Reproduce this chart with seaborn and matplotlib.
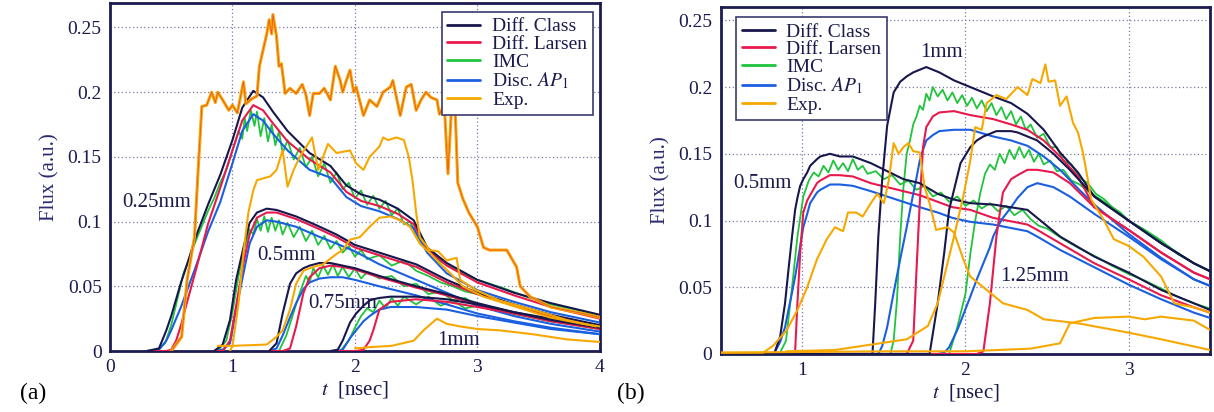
import matplotlib
matplotlib.use("Agg")
import matplotlib.pyplot as plt
from matplotlib.lines import Line2D
import seaborn as sns

sns.set_style("white")
plt.rcParams['font.family'] = ['Liberation Serif', 'DejaVu Serif']
plt.rcParams['mathtext.fontset'] = 'stix'

NAVY = '#17174d'
RED = '#e8194c'
GREEN = '#1fc43c'
BLUE = '#1a5fe0'
ORANGE = '#f7a800'
FRAME = '#1c1c52'

method_names = ['Diff. Class', 'Diff. Larsen', 'IMC', 'Disc. $AP_1$', 'Exp.']

# ---------------- Panel (a) ----------------
a_xticks = [0, 1, 2, 3, 4]
a_yticks = [0, 0.05, 0.1, 0.15, 0.2, 0.25]
a_ytick_labels = ['0', '0.05', '0.1', '0.15', '0.2', '0.25']
a_labels = ['0.25mm', '0.5mm', '0.75mm', '1mm']
a_label_pos = [(0.10, 0.115), (1.20, 0.074), (1.62, 0.037), (2.67, 0.0085)]

# 0.25 mm
a1_t = [0.30, 0.40, 0.46, 0.50, 0.54, 0.58, 0.63, 0.70, 0.80, 0.90,
        1.00, 1.08, 1.17, 1.25, 1.33, 1.45, 1.63, 1.80, 1.93, 2.05,
        2.20, 2.35, 2.48, 2.59, 2.75, 3.00, 3.30, 3.60, 4.00]
a1_class = [0, 0.002, 0.016, 0.027, 0.040, 0.053, 0.067, 0.088, 0.113, 0.136,
            0.163, 0.188, 0.201, 0.196, 0.185, 0.170, 0.153, 0.143, 0.128, 0.121,
            0.117, 0.110, 0.101, 0.080, 0.068, 0.055, 0.045, 0.037, 0.028]
a1_larsen = [0, 0, 0, 0.001, 0.008, 0.020, 0.038, 0.062, 0.098, 0.126,
             0.155, 0.178, 0.190, 0.186, 0.176, 0.162, 0.148, 0.138, 0.123, 0.116,
             0.112, 0.106, 0.098, 0.079, 0.066, 0.053, 0.043, 0.034, 0.025]
a1_ap1 = [0, 0.001, 0.008, 0.016, 0.025, 0.034, 0.047, 0.065, 0.092, 0.115,
          0.145, 0.170, 0.183, 0.178, 0.168, 0.155, 0.140, 0.134, 0.119, 0.112,
          0.108, 0.102, 0.095, 0.076, 0.060, 0.047, 0.038, 0.030, 0.022]
a1_imc_t = [0.38, 0.45, 0.50, 0.55, 0.60, 0.70, 0.80, 0.85, 0.90, 0.95,
            1.00, 1.05, 1.08, 1.10, 1.12, 1.15, 1.18, 1.20, 1.23, 1.26,
            1.29, 1.32, 1.35, 1.38, 1.41, 1.45, 1.50, 1.55, 1.60, 1.65,
            1.70, 1.75, 1.80, 1.85, 1.90, 1.95, 2.00, 2.05, 2.10, 2.15,
            2.20, 2.25, 2.30, 2.35, 2.40, 2.45, 2.50, 2.55, 2.60, 2.70,
            2.80, 2.90, 3.00, 3.20, 3.40, 3.60, 3.80, 4.00]
a1_imc = [0, 0.006, 0.020, 0.040, 0.060, 0.085, 0.108, 0.118, 0.130, 0.140,
          0.155, 0.170, 0.164, 0.180, 0.170, 0.186, 0.174, 0.185, 0.166, 0.180,
          0.162, 0.175, 0.159, 0.170, 0.153, 0.163, 0.148, 0.157, 0.142, 0.150,
          0.135, 0.145, 0.130, 0.138, 0.125, 0.130, 0.118, 0.124, 0.113, 0.120,
          0.110, 0.116, 0.105, 0.110, 0.098, 0.100, 0.090, 0.083, 0.077, 0.069,
          0.064, 0.059, 0.055, 0.049, 0.042, 0.036, 0.032, 0.027]
a1_exp_t = [0.50, 0.585, 0.63, 0.69, 0.72,
            0.75, 0.79, 0.83, 0.86, 0.88,
            0.92, 0.97, 1.00, 1.04, 1.09,
            1.11, 1.16, 1.20, 1.22, 1.28,
            1.30, 1.32, 1.33, 1.36, 1.38,
            1.40, 1.43, 1.47, 1.52, 1.57,
            1.60, 1.63, 1.66, 1.71, 1.75,
            1.80, 1.84, 1.88, 1.90, 1.93,
            1.96, 1.99, 2.01, 2.07, 2.12,
            2.18, 2.23, 2.29, 2.31, 2.37,
            2.42, 2.46, 2.50, 2.54, 2.58,
            2.62, 2.67, 2.69, 2.73, 2.76,
            2.79, 2.82, 2.84, 2.88, 2.93,
            3.00, 3.05, 3.10, 3.24, 3.32,
            3.35, 3.43, 3.60, 3.86, 4.00]
a1_exp = [0, 0.011, 0.055, 0.088, 0.140,
          0.189, 0.190, 0.200, 0.192, 0.200,
          0.194, 0.186, 0.190, 0.184, 0.208,
          0.191, 0.195, 0.197, 0.220, 0.245,
          0.256, 0.245, 0.260, 0.243, 0.220,
          0.222, 0.199, 0.203, 0.199, 0.206,
          0.198, 0.182, 0.199, 0.199, 0.203,
          0.194, 0.220, 0.209, 0.200, 0.209,
          0.217, 0.200, 0.204, 0.182, 0.194,
          0.189, 0.200, 0.204, 0.209, 0.182,
          0.204, 0.206, 0.186, 0.194, 0.200,
          0.196, 0.194, 0.183, 0.190, 0.137,
          0.190, 0.183, 0.130, 0.118, 0.107,
          0.096, 0.080, 0.078, 0.078, 0.065,
          0.050, 0.042, 0.034, 0.029, 0.026]

# 0.5 mm
a2_t = [0.85, 0.92, 0.98, 1.03, 1.09, 1.14, 1.20, 1.28, 1.36, 1.52,
        1.69, 1.85, 2.00, 2.20, 2.50, 2.75, 3.00, 3.30, 3.60, 4.00]
a2_class = [0, 0.005, 0.024, 0.055, 0.080, 0.099, 0.107, 0.110, 0.109, 0.104,
            0.097, 0.090, 0.082, 0.076, 0.067, 0.055, 0.045, 0.036, 0.028, 0.020]
a2_larsen = [0, 0, 0.008, 0.035, 0.068, 0.090, 0.103, 0.107, 0.107, 0.102,
             0.095, 0.088, 0.080, 0.074, 0.065, 0.053, 0.044, 0.035, 0.027, 0.019]
a2_ap1 = [0, 0.001, 0.006, 0.032, 0.060, 0.083, 0.096, 0.101, 0.100, 0.096,
          0.089, 0.083, 0.077, 0.067, 0.055, 0.045, 0.035, 0.027, 0.021, 0.015]
a2_imc_t = [0.88, 0.95, 1.00, 1.05, 1.10, 1.14, 1.17, 1.20, 1.23, 1.26,
            1.29, 1.32, 1.35, 1.38, 1.41, 1.45, 1.50, 1.55, 1.60, 1.65,
            1.70, 1.75, 1.80, 1.85, 1.90, 1.95, 2.00, 2.05, 2.10, 2.20,
            2.30, 2.40, 2.50, 2.60, 2.70, 2.80, 2.90, 3.00, 3.20, 3.40,
            3.60, 3.80, 4.00]
a2_imc = [0, 0.008, 0.030, 0.058, 0.080, 0.094, 0.090, 0.102, 0.093, 0.104,
          0.092, 0.103, 0.093, 0.101, 0.090, 0.099, 0.088, 0.096, 0.085, 0.093,
          0.082, 0.089, 0.079, 0.085, 0.076, 0.081, 0.073, 0.078, 0.071, 0.074,
          0.066, 0.070, 0.062, 0.058, 0.053, 0.050, 0.046, 0.044, 0.039, 0.032,
          0.027, 0.022, 0.018]
a2_exp_t = [0.98, 1.00, 1.05, 1.09, 1.13,
            1.17, 1.20, 1.31, 1.36, 1.41,
            1.45, 1.50, 1.55, 1.65, 1.70,
            1.78, 1.85, 1.96, 2.01, 2.07,
            2.12, 2.20, 2.23, 2.27, 2.34,
            2.40, 2.44, 2.47, 2.50, 2.53,
            2.61, 2.68, 2.75, 2.83, 2.86,
            2.99, 3.18, 3.45, 3.73, 3.97]
a2_exp = [0, 0.004, 0.037, 0.076, 0.107,
          0.124, 0.132, 0.135, 0.140, 0.155,
          0.127, 0.140, 0.150, 0.165, 0.140,
          0.160, 0.153, 0.155, 0.145, 0.140,
          0.150, 0.158, 0.165, 0.163, 0.165,
          0.163, 0.150, 0.132, 0.107, 0.088,
          0.078, 0.077, 0.070, 0.072, 0.055,
          0.047, 0.039, 0.032, 0.024, 0.019]

# 0.75 mm
a3_t = [1.30, 1.36, 1.41, 1.47, 1.52, 1.58, 1.63, 1.71, 1.80, 1.90,
        2.00, 2.20, 2.50, 2.75, 3.00, 3.30, 3.60, 4.00]
a3_class = [0, 0.006, 0.029, 0.052, 0.060, 0.064, 0.066, 0.068, 0.068, 0.066,
            0.064, 0.058, 0.050, 0.044, 0.037, 0.030, 0.024, 0.018]
a3_larsen = [0, 0, 0, 0.002, 0.019, 0.045, 0.057, 0.064, 0.066, 0.065,
             0.063, 0.057, 0.049, 0.043, 0.036, 0.029, 0.023, 0.017]
a3_ap1 = [0, 0.002, 0.012, 0.026, 0.037, 0.048, 0.053, 0.056, 0.057, 0.057,
          0.055, 0.050, 0.043, 0.036, 0.029, 0.023, 0.018, 0.013]
a3_imc_t = [1.38, 1.44, 1.50, 1.55, 1.60, 1.63, 1.66, 1.70, 1.74, 1.78,
            1.82, 1.86, 1.90, 1.95, 2.00, 2.05, 2.10, 2.20, 2.30, 2.40,
            2.50, 2.60, 2.70, 2.80, 2.90, 3.00, 3.20, 3.40, 3.60, 3.80,
            4.00]
a3_imc = [0, 0.012, 0.030, 0.045, 0.058, 0.053, 0.064, 0.057, 0.066, 0.059,
          0.067, 0.058, 0.065, 0.057, 0.064, 0.056, 0.061, 0.056, 0.058, 0.050,
          0.052, 0.044, 0.046, 0.039, 0.041, 0.035, 0.031, 0.027, 0.023, 0.020,
          0.017]
a3_exp_t = [0.88, 1.00, 1.28, 1.36, 1.41, 1.47, 1.52, 1.58, 1.66, 1.74,
            1.85, 1.90, 1.96, 2.04, 2.12, 2.20, 2.29, 2.37, 2.45, 2.53,
            2.61, 2.69, 2.78, 2.88, 3.05, 3.32, 3.59, 3.86, 4.00]
a3_exp = [0.004, 0.004, 0.005, 0.011, 0.016, 0.032, 0.052, 0.062, 0.065, 0.067,
          0.075, 0.078, 0.086, 0.088, 0.096, 0.103, 0.104, 0.101, 0.096, 0.083,
          0.076, 0.068, 0.060, 0.050, 0.042, 0.034, 0.026, 0.021, 0.019]

# 1 mm
a4_t = [1.80, 1.86, 1.90, 1.96, 2.01, 2.07, 2.12, 2.15, 2.20, 2.29,
        2.50, 2.75, 3.00, 3.30, 3.60, 4.00]
a4_class = [0, 0.001, 0.008, 0.022, 0.029, 0.035, 0.039, 0.040, 0.041, 0.042,
            0.042, 0.040, 0.036, 0.030, 0.025, 0.019]
a4_larsen = [0, 0, 0, 0, 0, 0.001, 0.008, 0.016, 0.032, 0.038,
             0.040, 0.038, 0.034, 0.029, 0.024, 0.018]
a4_ap1 = [0, 0, 0.001, 0.010, 0.016, 0.023, 0.027, 0.029, 0.032, 0.034,
          0.034, 0.032, 0.027, 0.022, 0.017, 0.013]
a4_imc_t = [1.88, 1.95, 2.00, 2.05, 2.10, 2.15, 2.20, 2.25, 2.30, 2.35,
            2.40, 2.50, 2.60, 2.70, 2.80, 2.90, 3.00, 3.20, 3.40, 3.60,
            3.80, 4.00]
a4_imc = [0, 0.008, 0.018, 0.027, 0.033, 0.030, 0.039, 0.033, 0.041, 0.035,
          0.042, 0.036, 0.042, 0.035, 0.039, 0.033, 0.035, 0.030, 0.027, 0.023,
          0.021, 0.017]
a4_exp_t = [2.00, 2.12, 2.30, 2.48, 2.56, 2.67, 2.75, 2.86, 3.00, 3.18,
            3.45, 3.73, 4.00]
a4_exp = [0.002, 0.003, 0.004, 0.008, 0.016, 0.025, 0.021, 0.019, 0.017, 0.016,
          0.013, 0.009, 0.007]

# ---------------- Panel (b) ----------------
b_xticks = [1, 2, 3]
b_yticks = [0, 0.05, 0.1, 0.15, 0.2, 0.25]
b_ytick_labels = ['0', '0.05', '0.1', '0.15', '0.2', '0.25']
b_labels = ['0.5mm', '1mm', '1.25mm']
b_label_pos = [(0.575, 0.128), (1.72, 0.226), (2.21, 0.058)]

# 0.5 mm
b1_t = [0.50, 0.80, 0.83, 0.864, 0.894, 0.915, 0.937, 0.956, 0.97, 0.987,
        1.006, 1.03, 1.048, 1.09, 1.11, 1.17, 1.23, 1.31, 1.42, 1.52,
        1.62, 1.72, 1.83, 1.92, 2.03, 2.17, 2.38, 2.44, 2.58, 2.79,
        3.00, 3.20, 3.40, 3.50]
b1_class = [0, 0, 0.001, 0.013, 0.038, 0.063, 0.088, 0.108, 0.117, 0.126,
            0.131, 0.136, 0.141, 0.146, 0.148, 0.150, 0.148, 0.148, 0.143, 0.137,
            0.131, 0.128, 0.120, 0.116, 0.113, 0.112, 0.108, 0.102, 0.088, 0.073,
            0.061, 0.048, 0.038, 0.033]
b1_larsen = [0, 0, 0, 0, 0, 0, 0, 0.002, 0.038, 0.076,
             0.106, 0.115, 0.119, 0.128, 0.130, 0.134, 0.134, 0.133, 0.128, 0.125,
             0.122, 0.119, 0.114, 0.110, 0.108, 0.102, 0.097, 0.093, 0.083, 0.068,
             0.056, 0.044, 0.035, 0.031]
b1_ap1 = [0, 0, 0.001, 0.009, 0.020, 0.033, 0.046, 0.058, 0.068, 0.081,
          0.095, 0.105, 0.113, 0.121, 0.123, 0.127, 0.127, 0.126, 0.122, 0.118,
          0.114, 0.110, 0.106, 0.102, 0.099, 0.097, 0.092, 0.088, 0.078, 0.065,
          0.052, 0.041, 0.031, 0.027]
b1_imc_t = [0.86, 0.90, 0.937, 0.97, 1.006, 1.04, 1.07, 1.10, 1.13, 1.16,
            1.19, 1.22, 1.25, 1.28, 1.31, 1.34, 1.37, 1.40, 1.45, 1.50,
            1.55, 1.60, 1.65, 1.70, 1.75, 1.80, 1.85, 1.90, 1.95, 2.00,
            2.05, 2.10, 2.15, 2.20, 2.25, 2.30, 2.35, 2.40, 2.45, 2.50,
            2.60, 2.70, 2.80, 2.90, 3.00, 3.10, 3.20, 3.30, 3.40, 3.50]
b1_imc = [0, 0.010, 0.050, 0.088, 0.118, 0.130, 0.136, 0.133, 0.141, 0.136,
          0.145, 0.138, 0.143, 0.137, 0.146, 0.138, 0.141, 0.135, 0.137, 0.131,
          0.134, 0.127, 0.130, 0.123, 0.126, 0.118, 0.121, 0.114, 0.118, 0.111,
          0.115, 0.109, 0.113, 0.107, 0.111, 0.104, 0.108, 0.101, 0.096, 0.094,
          0.086, 0.079, 0.073, 0.066, 0.060, 0.055, 0.049, 0.043, 0.038, 0.034]
b1_exp_t = [0.50, 0.76, 0.82, 0.905, 0.97, 1.03, 1.09, 1.15, 1.20, 1.25,
            1.28, 1.33, 1.37, 1.42, 1.46, 1.50, 1.53, 1.56, 1.59, 1.62,
            1.65, 1.68, 1.72, 1.75, 1.78, 1.82, 1.89, 1.93, 1.99, 2.03,
            2.13, 2.23, 2.38, 2.48, 2.69, 3.00, 3.20, 3.50]
b1_exp = [0.001, 0.001, 0.006, 0.018, 0.033, 0.050, 0.071, 0.086, 0.095, 0.092,
          0.106, 0.106, 0.103, 0.113, 0.120, 0.113, 0.130, 0.158, 0.150, 0.155,
          0.158, 0.152, 0.151, 0.125, 0.113, 0.093, 0.095, 0.091, 0.070, 0.058,
          0.048, 0.038, 0.033, 0.026, 0.023, 0.016, 0.011, 0.003]

# 1 mm
b2_t = [0.50, 1.43, 1.447, 1.466, 1.49, 1.52, 1.56, 1.60, 1.64, 1.68,
        1.70, 1.72, 1.74, 1.76, 1.80, 1.84, 1.93, 2.03, 2.17, 2.28,
        2.38, 2.48, 2.58, 2.69, 2.79, 3.00, 3.20, 3.40, 3.50]
b2_class = [0, 0, 0.038, 0.088, 0.131, 0.171, 0.196, 0.204, 0.208, 0.211,
            0.212, 0.213, 0.214, 0.215, 0.213, 0.211, 0.205, 0.200, 0.193, 0.188,
            0.180, 0.168, 0.151, 0.136, 0.118, 0.100, 0.083, 0.068, 0.062]
b2_larsen = [0, 0, 0, 0, 0, 0, 0, 0, 0, 0.010,
             0.063, 0.113, 0.155, 0.170, 0.178, 0.181, 0.182, 0.179, 0.176, 0.172,
             0.168, 0.160, 0.148, 0.133, 0.110, 0.093, 0.076, 0.061, 0.056]
b2_ap1 = [0, 0, 0, 0, 0.006, 0.020, 0.046, 0.071, 0.095, 0.120,
          0.132, 0.145, 0.153, 0.160, 0.164, 0.167, 0.168, 0.168, 0.163, 0.160,
          0.156, 0.148, 0.138, 0.124, 0.112, 0.090, 0.072, 0.056, 0.051]
b2_imc_t = [1.54, 1.56, 1.58, 1.60, 1.62, 1.64, 1.66, 1.68, 1.70, 1.72,
            1.74, 1.76, 1.78, 1.80, 1.83, 1.86, 1.89, 1.92, 1.95, 1.98,
            2.01, 2.04, 2.07, 2.10, 2.13, 2.16, 2.19, 2.22, 2.25, 2.28,
            2.31, 2.34, 2.37, 2.40, 2.44, 2.48, 2.52, 2.56, 2.60, 2.65,
            2.70, 2.75, 2.80, 2.85, 2.90, 2.95, 3.00, 3.10, 3.20, 3.30,
            3.40, 3.50]
b2_imc = [0, 0.010, 0.040, 0.088, 0.125, 0.150, 0.160, 0.172, 0.178, 0.186,
          0.183, 0.195, 0.190, 0.200, 0.193, 0.198, 0.190, 0.196, 0.188, 0.194,
          0.186, 0.192, 0.184, 0.190, 0.182, 0.188, 0.179, 0.185, 0.176, 0.182,
          0.172, 0.178, 0.168, 0.172, 0.162, 0.165, 0.155, 0.155, 0.145, 0.142,
          0.132, 0.128, 0.120, 0.116, 0.110, 0.106, 0.100, 0.093, 0.085, 0.075,
          0.068, 0.062]
b2_exp_t = [0.90, 1.20, 1.42, 1.64, 1.77, 1.83, 1.93, 1.99, 2.03, 2.06,
            2.10, 2.13, 2.19, 2.25, 2.32, 2.38, 2.41, 2.46, 2.49, 2.51,
            2.55, 2.58, 2.62, 2.66, 2.69, 2.72, 2.75, 2.77, 2.85, 2.91,
            3.00, 3.09, 3.20, 3.28, 3.40, 3.50]
b2_exp = [0.002, 0.003, 0.007, 0.011, 0.021, 0.038, 0.088, 0.120, 0.145, 0.170,
          0.168, 0.188, 0.194, 0.191, 0.200, 0.194, 0.206, 0.203, 0.217, 0.204,
          0.205, 0.186, 0.193, 0.173, 0.166, 0.151, 0.131, 0.116, 0.100, 0.086,
          0.081, 0.073, 0.058, 0.038, 0.035, 0.031]

# 1.25 mm
b3_t = [0.50, 1.78, 1.83, 1.87, 1.90, 1.95, 1.97, 2.03, 2.07, 2.11,
        2.15, 2.17, 2.19, 2.21, 2.23, 2.28, 2.32, 2.38, 2.44, 2.54,
        2.64, 2.79, 3.00, 3.20, 3.40, 3.50]
b3_class = [0, 0, 0.038, 0.076, 0.108, 0.133, 0.143, 0.155, 0.160, 0.163,
            0.165, 0.166, 0.167, 0.167, 0.167, 0.167, 0.166, 0.163, 0.160, 0.150,
            0.138, 0.118, 0.100, 0.083, 0.068, 0.062]
b3_larsen = [0, 0, 0, 0, 0, 0, 0, 0, 0, 0.002,
             0.038, 0.063, 0.088, 0.105, 0.121, 0.131, 0.134, 0.138, 0.138, 0.136,
             0.128, 0.110, 0.093, 0.076, 0.061, 0.056]
b3_ap1 = [0, 0, 0, 0.001, 0.005, 0.018, 0.024, 0.043, 0.056, 0.068,
          0.080, 0.088, 0.093, 0.098, 0.102, 0.110, 0.117, 0.125, 0.128, 0.125,
          0.118, 0.105, 0.088, 0.071, 0.056, 0.051]
b3_imc_t = [1.90, 1.95, 2.00, 2.03, 2.06, 2.09, 2.12, 2.15, 2.18, 2.21,
            2.24, 2.27, 2.30, 2.33, 2.36, 2.39, 2.42, 2.45, 2.48, 2.52,
            2.56, 2.60, 2.65, 2.70, 2.75, 2.80, 2.90, 3.00, 3.20, 3.40,
            3.50]
b3_imc = [0, 0.020, 0.045, 0.075, 0.100, 0.120, 0.135, 0.142, 0.138, 0.150,
          0.143, 0.153, 0.146, 0.155, 0.147, 0.153, 0.144, 0.150, 0.142, 0.145,
          0.137, 0.138, 0.130, 0.127, 0.122, 0.118, 0.110, 0.100, 0.084, 0.068,
          0.062]
b3_exp_t = [0.50, 1.50, 2.00, 2.40, 2.58, 2.64, 2.79, 3.00, 3.10, 3.20,
            3.40, 3.50]
b3_exp = [0.001, 0.002, 0.002, 0.004, 0.008, 0.023, 0.027, 0.028, 0.026, 0.028,
          0.025, 0.018]


def draw(ax, t, y, color, lw=1.5, z=2):
    sns.lineplot(x=t, y=y, ax=ax, color=color, linewidth=lw,
                 estimator=None, sort=False, legend=False, zorder=z)


def draw_group(ax, t, cls, lar, ap1, imc_t, imc):
    draw(ax, imc_t, imc, GREEN, lw=1.3, z=2)
    draw(ax, t, ap1, BLUE, z=3)
    draw(ax, t, lar, RED, z=3)
    draw(ax, t, cls, NAVY, z=4)


def style_axes(ax, xlim, ylim, xticks, yticks, ylabels):
    ax.set_xlim(*xlim)
    ax.set_ylim(*ylim)
    ax.set_xticks(xticks)
    ax.set_xticklabels([str(v) for v in xticks])
    ax.set_yticks(yticks)
    ax.set_yticklabels(ylabels)
    ax.tick_params(length=0, labelsize=14, labelcolor='#1a1a4e', pad=6)
    ax.grid(True, linestyle=(0, (1, 2)), color='#7a7aa8', linewidth=0.9)
    ax.set_axisbelow(True)
    for s in ax.spines.values():
        s.set_color(FRAME)
        s.set_linewidth(2.0)
        s.set_visible(True)
    ax.set_xlabel('$t$  [nsec]', fontsize=15, color='#1a1a4e', labelpad=2)
    ax.set_ylabel('Flux (a.u.)', fontsize=15, color='#2a2a70', labelpad=6)


def legend(ax, loc, anchor):
    colors = [NAVY, RED, GREEN, BLUE, ORANGE]
    handles = [Line2D([0], [0], color=c, lw=2) for c in colors]
    lg = ax.legend(handles, method_names, loc=loc, bbox_to_anchor=anchor,
                   fontsize=14, frameon=True, fancybox=False, framealpha=1,
                   edgecolor='#3a3a70', borderpad=0.3, labelspacing=0.0,
                   handlelength=1.7, handletextpad=0.6, borderaxespad=0)
    lg.get_frame().set_linewidth(1.2)
    for txt in lg.get_texts():
        txt.set_color('#1a1a4e')
    lg.set_zorder(10)


fig = plt.figure(figsize=(12.14, 4.12), dpi=100)
fig.patch.set_facecolor('white')

# ---- panel (a)
axa = fig.add_axes([0.0906, 0.148, 0.4035, 0.845])
draw_group(axa, a1_t, a1_class, a1_larsen, a1_ap1, a1_imc_t, a1_imc)
draw_group(axa, a2_t, a2_class, a2_larsen, a2_ap1, a2_imc_t, a2_imc)
draw_group(axa, a3_t, a3_class, a3_larsen, a3_ap1, a3_imc_t, a3_imc)
draw_group(axa, a4_t, a4_class, a4_larsen, a4_ap1, a4_imc_t, a4_imc)
draw(axa, a1_exp_t, a1_exp, ORANGE, lw=2.2, z=5)
draw(axa, a1_exp_t, a1_exp, '#e84a3a', lw=0.5, z=6)
draw(axa, a2_exp_t, a2_exp, ORANGE, lw=1.5, z=5)
draw(axa, a3_exp_t, a3_exp, ORANGE, lw=1.5, z=5)
draw(axa, a4_exp_t, a4_exp, ORANGE, lw=1.5, z=5)
style_axes(axa, (0, 4), (0, 0.269), a_xticks, a_yticks, a_ytick_labels)
for lab, (x, y) in zip(a_labels, a_label_pos):
    axa.text(x, y, lab, fontsize=15, color='#1a1a4e', va='center', ha='left', zorder=8)
legend(axa, 'upper right', (0.986, 0.974))

# ---- panel (b)
axb = fig.add_axes([0.5937, 0.1408, 0.4031, 0.8422])
draw_group(axb, b1_t, b1_class, b1_larsen, b1_ap1, b1_imc_t, b1_imc)
draw_group(axb, b2_t, b2_class, b2_larsen, b2_ap1, b2_imc_t, b2_imc)
draw_group(axb, b3_t, b3_class, b3_larsen, b3_ap1, b3_imc_t, b3_imc)
draw(axb, b1_exp_t, b1_exp, ORANGE, lw=1.5, z=5)
draw(axb, b2_exp_t, b2_exp, ORANGE, lw=1.5, z=5)
draw(axb, b3_exp_t, b3_exp, ORANGE, lw=1.5, z=5)
style_axes(axb, (0.5, 3.5), (0, 0.26), b_xticks, b_yticks, b_ytick_labels)
for lab, (x, y) in zip(b_labels, b_label_pos):
    axb.text(x, y, lab, fontsize=15, color='#1a1a4e', va='center', ha='left', zorder=8)
legend(axb, 'upper left', (0.031, 0.971))

fig.text(0.0165, 0.045, '(a)', fontsize=17, color='black', va='center', ha='left')
fig.text(0.508, 0.046, '(b)', fontsize=17, color='black', va='center', ha='left')

fig.savefig('out.png', dpi=100, facecolor='white')
